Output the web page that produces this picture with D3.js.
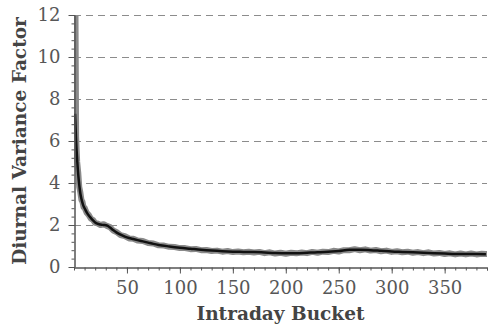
<!DOCTYPE html>
<html>
<head>
<meta charset="utf-8">
<script src="https://cdn.jsdelivr.net/npm/d3@7"></script>
<style>
  body { margin: 0; background: #fff; }
  svg text { font-family: "DejaVu Serif", serif; }
</style>
</head>
<body>
<div id="chart"></div>
<script>
// smoothed factor (black line)
var smoothBuckets = [1, 2, 3, 4, 5, 6, 7, 8, 9, 10, 12, 14, 16, 18, 20, 22, 25, 28, 31, 34, 37, 40, 44, 48, 52, 56, 60, 65, 70, 75, 80, 90, 100, 110, 120, 130, 140, 150, 160, 170, 180, 190, 200, 210, 220, 230, 240, 250, 260, 270, 280, 290, 300, 310, 320, 330, 340, 350, 360, 370, 380, 389];
var smoothValues = [7.3, 6.0, 5.1, 4.4, 3.9, 3.5, 3.25, 3.05, 2.9, 2.8, 2.6, 2.45, 2.33, 2.22, 2.12, 2.06, 2.02, 2.0, 1.98, 1.88, 1.76, 1.65, 1.54, 1.45, 1.38, 1.33, 1.28, 1.22, 1.16, 1.1, 1.05, 0.98, 0.92, 0.87, 0.82, 0.78, 0.75, 0.73, 0.72, 0.71, 0.69, 0.67, 0.66, 0.66, 0.68, 0.7, 0.73, 0.76, 0.82, 0.82, 0.8, 0.77, 0.74, 0.72, 0.7, 0.68, 0.66, 0.64, 0.62, 0.62, 0.62, 0.61];

// raw factor (grey band)
var rawBuckets = [1, 2, 3, 4, 5, 6, 7, 8, 9, 10, 12, 14, 16, 18, 20, 22, 25, 28, 31, 34, 37, 40, 44, 48, 52, 56, 60, 65, 70, 75, 80, 85, 90, 95, 100, 105, 110, 115, 120, 125, 130, 135, 140, 145, 150, 155, 160, 165, 170, 175, 180, 185, 190, 195, 200, 205, 210, 215, 220, 225, 230, 235, 240, 245, 250, 255, 260, 265, 270, 275, 280, 285, 290, 295, 300, 305, 310, 315, 320, 325, 330, 335, 340, 345, 350, 355, 360, 365, 370, 375, 380, 385, 389];
var rawValues = [16.0, 6.2, 5.0, 4.5, 3.8, 3.55, 3.2, 3.1, 2.85, 2.82, 2.58, 2.47, 2.3, 2.24, 2.1, 2.08, 2.0, 2.04, 1.96, 1.9, 1.74, 1.67, 1.52, 1.47, 1.36, 1.35, 1.26, 1.24, 1.14, 1.12, 1.03, 1.02, 0.96, 0.95, 0.9, 0.9, 0.85, 0.86, 0.8, 0.81, 0.76, 0.78, 0.73, 0.76, 0.71, 0.74, 0.7, 0.73, 0.69, 0.72, 0.66, 0.7, 0.64, 0.68, 0.63, 0.68, 0.65, 0.69, 0.66, 0.72, 0.68, 0.73, 0.71, 0.77, 0.74, 0.8, 0.8, 0.85, 0.8, 0.84, 0.78, 0.81, 0.75, 0.78, 0.72, 0.75, 0.7, 0.73, 0.68, 0.71, 0.66, 0.7, 0.64, 0.67, 0.62, 0.65, 0.6, 0.64, 0.6, 0.64, 0.6, 0.63, 0.62];

var yTicks = [0, 2, 4, 6, 8, 10, 12];
var xTicks = [50, 100, 150, 200, 250, 300, 350];

var width = 489, height = 329;
var margin = { left: 74, right: 2, top: 15, bottom: 62 };

var svg = d3.select("#chart")
  .append("svg")
  .attr("width", width)
  .attr("height", height);

var x = d3.scaleLinear()
  .domain([0, 390])
  .range([margin.left, width - margin.right]);

var y = d3.scaleLinear()
  .domain([0, 12])
  .range([height - margin.bottom, margin.top]);

svg.append("defs").append("clipPath")
  .attr("id", "plotClip")
  .append("rect")
  .attr("x", margin.left)
  .attr("y", margin.top)
  .attr("width", width - margin.left - margin.right)
  .attr("height", height - margin.top - margin.bottom);

// dashed grid lines
svg.append("g")
  .selectAll("line")
  .data(yTicks.filter(function(d) { return d > 0; }))
  .enter()
  .append("line")
  .attr("x1", margin.left)
  .attr("x2", width - margin.right)
  .attr("y1", function(d) { return Math.round(y(d)) + 0.5; })
  .attr("y2", function(d) { return Math.round(y(d)) + 0.5; })
  .style("stroke", "#8c8c8c")
  .style("stroke-width", "1px")
  .style("stroke-dasharray", "7,5");

var rawData = rawBuckets.map(function(b, i) { return [b, rawValues[i]]; });
var smoothData = smoothBuckets.map(function(b, i) { return [b, smoothValues[i]]; });

var line = d3.line()
  .x(function(d) { return x(d[0]); })
  .y(function(d) { return y(d[1]); });

var plot = svg.append("g").attr("clip-path", "url(#plotClip)");

plot.append("path")
  .datum(rawData)
  .attr("d", line)
  .style("fill", "none")
  .style("stroke", "#8a8a8a")
  .style("stroke-width", "6px")
  .style("stroke-linejoin", "round")
  .style("stroke-linecap", "round");

plot.append("path")
  .datum(smoothData)
  .attr("d", line.curve(d3.curveMonotoneX))
  .style("fill", "none")
  .style("stroke", "#111111")
  .style("stroke-width", "2.5px")
  .style("stroke-linejoin", "round");

var axisColor = "#555555";

var xAxis = d3.axisBottom(x)
  .tickValues(xTicks)
  .tickSizeInner(6)
  .tickSizeOuter(0)
  .tickPadding(8);

// minor ticks
var xMinor = d3.axisBottom(x)
  .tickValues(d3.range(10, 391, 10))
  .tickSize(3)
  .tickFormat("");

var yAxis = d3.axisLeft(y)
  .tickValues(yTicks)
  .tickSizeInner(6)
  .tickSizeOuter(0)
  .tickPadding(8);

var yMinor = d3.axisLeft(y)
  .tickValues(d3.range(0, 12.01, 0.4))
  .tickSize(3)
  .tickFormat("");

var gxm = svg.append("g")
  .attr("transform", "translate(0," + (height - margin.bottom + 0.5) + ")")
  .call(xMinor);
var gx = svg.append("g")
  .attr("transform", "translate(0," + (height - margin.bottom + 0.5) + ")")
  .call(xAxis);
var gym = svg.append("g")
  .attr("transform", "translate(" + (margin.left + 0.5) + ",0)")
  .call(yMinor);
var gy = svg.append("g")
  .attr("transform", "translate(" + (margin.left + 0.5) + ",0)")
  .call(yAxis);

[gxm, gx, gym, gy].forEach(function(g) {
  g.select("path").style("stroke", axisColor).style("stroke-width", "1px");
  g.selectAll(".tick line").style("stroke", axisColor).style("stroke-width", "1px");
  g.selectAll(".tick text")
    .style("fill", "#575757")
    .style("font-size", "18px")
    .style("font-family", "DejaVu Serif, serif");
});

// axis titles
svg.append("text")
  .attr("x", (margin.left + width - margin.right) / 2)
  .attr("y", 320)
  .attr("text-anchor", "middle")
  .style("font-size", "18.5px")
  .style("font-weight", "bold")
  .style("fill", "#444444")
  .text("Intraday Bucket");

svg.append("text")
  .attr("transform", "translate(26," + ((margin.top + height - margin.bottom) / 2) + ") rotate(-90)")
  .attr("text-anchor", "middle")
  .style("font-size", "18.5px")
  .style("font-weight", "bold")
  .style("fill", "#444444")
  .text("Diurnal Variance Factor");
</script>
</body>
</html>
